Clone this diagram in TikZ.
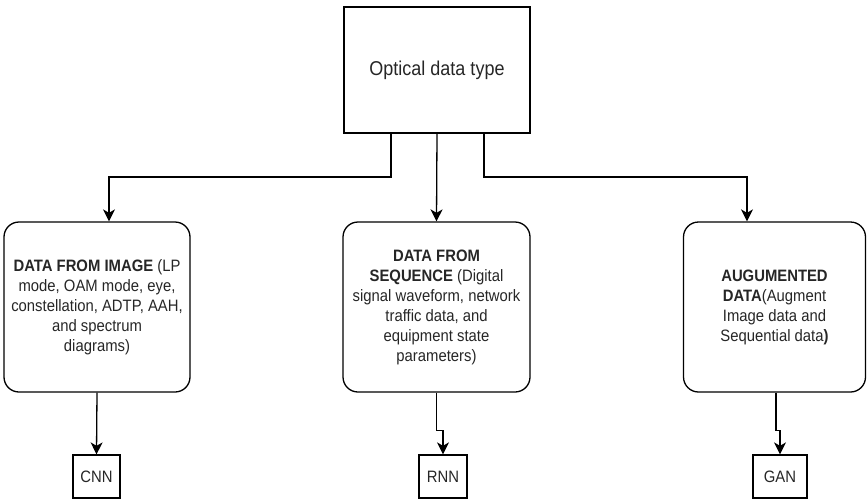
\documentclass[tikz,border=0pt]{standalone}
\usepackage{fontspec}
\setmainfont{Liberation Sans}[FakeStretch=0.9]
\usetikzlibrary{arrows.meta}

\begin{document}
\begin{tikzpicture}[x=1pt,y=-1pt,
  line width=1.3pt,
  every node/.style={font=\fontsize{16.5}{20}\selectfont,text=black!85},
  type node/.style={rectangle,draw,minimum width=186pt,minimum height=126pt,font=\fontsize{20}{24}\selectfont},
  data node/.style={rectangle,draw,rounded corners=15pt,minimum height=170pt,align=center,inner sep=1pt},
  net node/.style={rectangle,draw,minimum height=43pt,inner sep=3pt},
  arr/.style={-{Stealth[length=12pt,width=12pt,inset=3.5pt]}}]

  \useasboundingbox (0,0) rectangle (867,499);

  \node[type node] (top) at (437,70) {Optical data type};

  \node[data node,minimum width=186pt] (img) at (97,307)
    {\textbf{DATA FROM IMAGE} (LP\\mode, OAM mode, eye,\\constellation, ADTP, AAH,\\and spectrum\\diagrams)};
  \node[data node,minimum width=187pt] (seq) at (436.5,307)
    {\textbf{DATA FROM}\\\textbf{SEQUENCE} (Digital\\signal waveform, network\\traffic data, and\\equipment state\\parameters)};
  \node[data node,minimum width=182pt] (aug) at (774.5,307)
    {\textbf{AUGUMENTED}\\\textbf{DATA}(Augment\\Image data and\\Sequential data\textbf{)}};

  \node[net node,minimum width=47pt] (cnn) at (96.5,476.5) {CNN};
  \node[net node,minimum width=48pt] (rnn) at (443,476.5) {RNN};
  \node[net node,minimum width=54pt] (gan) at (780,476.5) {GAN};

  \coordinate (l1) at (391,177);
  \coordinate (l2) at (109,177);
  \coordinate (r1) at (484,177);
  \coordinate (r2) at (747,177);

  \draw[arr] (top.south -| l1) -- (l1) -- (l2) -- (l2 |- img.north);
  \draw[arr] (top.south) -- (seq.north);
  \draw[arr] (top.south -| r1) -- (r1) -- (r2) -- (r2 |- aug.north);

  \draw[arr] (img.south) -- (cnn.north);
  \draw[arr] (seq.south) -- ++(0,38) -| (rnn.north);
  \draw[arr] (aug.south -| 776,0) -- ++(0,38) -| (gan.north);
\end{tikzpicture}
\end{document}
